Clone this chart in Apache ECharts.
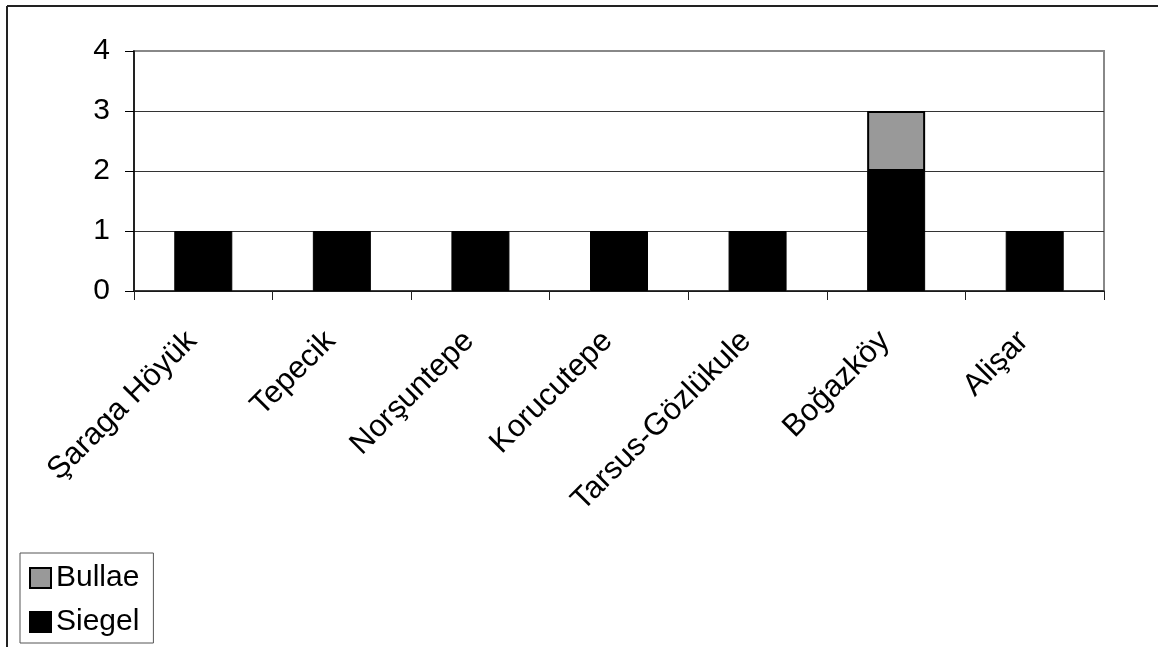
<!DOCTYPE html>
<html><head><meta charset="utf-8">
<script src="https://cdn.jsdelivr.net/npm/echarts@6/dist/echarts.min.js"></script>
<style>html,body{margin:0;padding:0;background:#fff}#c{width:1158px;height:647px}</style>
</head><body><div id="c"></div>
<script>
const categories = ['Şaraga Höyük', 'Tepecik', 'Norşuntepe', 'Korucutepe', 'Tarsus-Gözlükule', 'Boğazköy', 'Alişar'];
const siegel = [1, 1, 1, 1, 1, 2, 1];
const bullae = [0, 0, 0, 0, 0, 1, 0];
const yMin = 0, yMax = 4, yStep = 1;

const FONT = '"Liberation Sans", Arial, sans-serif';
const chart = echarts.init(document.getElementById('c'), null, {renderer: 'canvas'});
chart.setOption({
  animation: false,
  backgroundColor: '#fff',
  textStyle: {fontFamily: FONT},
  grid: {left: 134, top: 51, right: 54, bottom: 356, show: true, borderColor: '#888', borderWidth: 2, backgroundColor: 'transparent'},
  xAxis: {
    type: 'category',
    data: categories,
    axisLine: {lineStyle: {color: '#222', width: 1.5}},
    axisTick: {show: true, length: 9, lineStyle: {color: '#222', width: 1}},
    axisLabel: {rotate: 45, margin: 34, fontSize: 31, color: '#000', fontFamily: FONT, interval: 0, padding: [0, 16, 0, 0]}
  },
  yAxis: {
    type: 'value', min: yMin, max: yMax, interval: yStep,
    axisLine: {show: true, lineStyle: {color: '#000', width: 1.5}},
    axisTick: {show: true, length: 9, lineStyle: {color: '#000', width: 1}},
    axisLabel: {margin: 24, fontSize: 30, color: '#000', fontFamily: FONT},
    splitLine: {show: true, lineStyle: {color: ['#000', '#333', '#333', '#333', '#888'], width: 1}}
  },
  legend: {
    orient: 'vertical', left: 20, top: 553,
    padding: [9, 14, 5, 9], itemGap: 12,
    itemWidth: 21, itemHeight: 20, icon: 'rect',
    backgroundColor: '#fff', borderColor: '#555', borderWidth: 1, borderRadius: 0,
    textStyle: {fontSize: 30, lineHeight: 32, color: '#000', fontFamily: FONT},
    data: ['Bullae', 'Siegel']
  },
  series: [
    {name: 'Siegel', type: 'bar', stack: 's', barWidth: 58, data: siegel,
     itemStyle: {color: '#000', borderColor: '#000', borderWidth: 1}},
    {name: 'Bullae', type: 'bar', stack: 's', barWidth: 58,
     data: bullae.map(v => v === 0 ? '-' : v),
     itemStyle: {color: '#999', borderColor: '#000', borderWidth: 2}}
  ],
  graphic: [
    {type: 'line', shape: {x1: 7, y1: 6, x2: 1158, y2: 6}, style: {stroke: '#222', lineWidth: 2}, z: 10},
    {type: 'line', shape: {x1: 7, y1: 6, x2: 7, y2: 647}, style: {stroke: '#222', lineWidth: 2}, z: 10}
  ]
});
</script></body></html>
